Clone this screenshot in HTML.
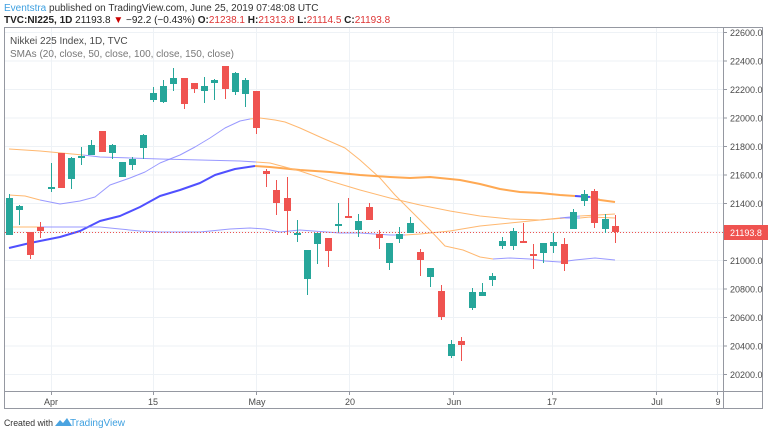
<!DOCTYPE html>
<html><head><meta charset="utf-8"><style>
body{margin:0;width:768px;height:434px;background:#fff;overflow:hidden;font-family:"Liberation Sans",sans-serif}
</style></head><body>
<svg width="768" height="434" xmlns="http://www.w3.org/2000/svg" font-family="Liberation Sans, sans-serif">
<rect width="768" height="434" fill="#fff"/>
<g stroke="#eef2f6" stroke-width="1">
<line x1="5" x2="723" y1="32.5" y2="32.5"/><line x1="5" x2="723" y1="61" y2="61"/><line x1="5" x2="723" y1="89.5" y2="89.5"/><line x1="5" x2="723" y1="118" y2="118"/><line x1="5" x2="723" y1="146.5" y2="146.5"/><line x1="5" x2="723" y1="175" y2="175"/><line x1="5" x2="723" y1="203.5" y2="203.5"/><line x1="5" x2="723" y1="232" y2="232"/><line x1="5" x2="723" y1="260.5" y2="260.5"/><line x1="5" x2="723" y1="289" y2="289"/><line x1="5" x2="723" y1="317.5" y2="317.5"/><line x1="5" x2="723" y1="346" y2="346"/><line x1="5" x2="723" y1="374.5" y2="374.5"/>
<line x1="51.5" x2="51.5" y1="28" y2="391"/><line x1="153.5" x2="153.5" y1="28" y2="391"/><line x1="256.5" x2="256.5" y1="28" y2="391"/><line x1="349.5" x2="349.5" y1="28" y2="391"/><line x1="453.5" x2="453.5" y1="28" y2="391"/><line x1="552.5" x2="552.5" y1="28" y2="391"/><line x1="656.5" x2="656.5" y1="28" y2="391"/><line x1="717.5" x2="717.5" y1="28" y2="391"/>
</g>
<g fill="none" stroke-linejoin="round">
<polyline stroke="#ffb870" stroke-width="1" points="9,195 25,196 40,200"/>
<polyline stroke="#8080ff" stroke-width="1" opacity="0.8" points="40,200 60,204 80,201 95,197 110,185 130,178 145,172 160,163 180,155 195,147 210,138 225,128 240,121 250,119"/>
<polyline stroke="#ffb870" stroke-width="1" points="250,119 260,118 275,120 285,122 300,128 320,137 345,148 360,160 380,178 395,195 410,210 420,220 430,230 445,246 463,250 480,257 493,259"/>
<polyline stroke="#8080ff" stroke-width="1" opacity="0.8" points="493,259 510,258 530,259 545,261 560,262 575,260 595,258 615,260"/>
<polyline stroke="#5050ff" stroke-width="2" points="9,248 30,243 60,237 80,231 100,221 120,216 140,207 160,196 180,190 200,183 215,175 235,169 255,166"/>
<polyline stroke="#ffa040" stroke-width="2" opacity="0.9" points="255,166 270,167 300,170 330,172 360,175 390,177 410,178 430,177 460,180 480,184 500,189 520,192 540,193 560,195 575,196"/>
<polyline stroke="#5050ff" stroke-width="2" points="575,196 590,197"/>
<polyline stroke="#ffa040" stroke-width="2" opacity="0.9" points="590,197 600,200 615,202"/>
<polyline stroke="#ffb870" stroke-width="1" points="9,149 40,151 83,155"/>
<polyline stroke="#8080ff" stroke-width="1" opacity="0.8" points="83,155 100,157 130,158 160,159 200,160 240,161 256,162"/>
<polyline stroke="#ffb870" stroke-width="1" points="256,162 270,163 300,171 330,181 360,190 390,198 420,205 450,211 480,216 510,219 540,220 565,218"/>
<polyline stroke="#8080ff" stroke-width="1" opacity="0.8" points="565,218 580,218"/>
<polyline stroke="#ffb870" stroke-width="1" points="580,218 590,217 615,218"/>
<polyline stroke="#ffb870" stroke-width="1" points="9,227 40,227"/>
<polyline stroke="#8080ff" stroke-width="1" opacity="0.8" points="40,227 100,227 120,229 140,231 160,232 200,232 230,229 250,228 265,229 280,232 300,230 340,233 360,233 390,235 405,235"/>
<polyline stroke="#ffb870" stroke-width="1" points="405,235 420,234 450,231 480,226 510,223 530,221 560,218"/>
<polyline stroke="#8080ff" stroke-width="1" opacity="0.8" points="560,218 580,216"/>
<polyline stroke="#ffb870" stroke-width="1" points="580,216 615,214"/>
</g>
<line x1="5" x2="723" y1="232.5" y2="232.5" stroke="#ef5350" stroke-width="1" stroke-dasharray="1,2"/>
<g id="c"></g>
<rect x="4.5" y="27.5" width="758" height="381" fill="none" stroke="#9598a1" stroke-width="1"/>
<line x1="723.5" x2="723.5" y1="28" y2="409" stroke="#9598a1"/>
<line x1="5" x2="763" y1="391.5" y2="391.5" stroke="#9598a1"/>
<g stroke="#9598a1"><line x1="723" x2="727" y1="32.5" y2="32.5"/><line x1="723" x2="727" y1="61" y2="61"/><line x1="723" x2="727" y1="89.5" y2="89.5"/><line x1="723" x2="727" y1="118" y2="118"/><line x1="723" x2="727" y1="146.5" y2="146.5"/><line x1="723" x2="727" y1="175" y2="175"/><line x1="723" x2="727" y1="203.5" y2="203.5"/><line x1="723" x2="727" y1="260.5" y2="260.5"/><line x1="723" x2="727" y1="289" y2="289"/><line x1="723" x2="727" y1="317.5" y2="317.5"/><line x1="723" x2="727" y1="346" y2="346"/><line x1="723" x2="727" y1="374.5" y2="374.5"/>
<line x1="51.5" x2="51.5" y1="391" y2="395"/><line x1="153.5" x2="153.5" y1="391" y2="395"/><line x1="256.5" x2="256.5" y1="391" y2="395"/><line x1="349.5" x2="349.5" y1="391" y2="395"/><line x1="453.5" x2="453.5" y1="391" y2="395"/><line x1="552.5" x2="552.5" y1="391" y2="395"/><line x1="656.5" x2="656.5" y1="391" y2="395"/><line x1="717.5" x2="717.5" y1="391" y2="395"/></g>
<g font-size="9" fill="#4a4a4a">
<text x="730" y="36">22600.0</text><text x="730" y="64.5">22400.0</text><text x="730" y="93">22200.0</text><text x="730" y="121.5">22000.0</text><text x="730" y="150">21800.0</text><text x="730" y="178.5">21600.0</text><text x="730" y="207">21400.0</text><text x="730" y="264">21000.0</text><text x="730" y="292.5">20800.0</text><text x="730" y="321">20600.0</text><text x="730" y="349.5">20400.0</text><text x="730" y="378">20200.0</text>
</g>
<rect x="724" y="225" width="44" height="15" fill="#ef5350"/>
<text x="730" y="236" font-size="9" fill="#fff">21193.8</text>
<g font-size="9" fill="#4a4a4a" text-anchor="middle">
<text x="51" y="405">Apr</text><text x="153" y="405">15</text><text x="257" y="405">May</text><text x="350" y="405">20</text><text x="454" y="405">Jun</text><text x="552" y="405">17</text><text x="657" y="405">Jul</text><text x="718" y="405">9</text>
</g>
<text x="4" y="11" font-size="10" fill="#333"><tspan fill="#3ea0e0">Eventstra</tspan> published on TradingView.com, June 25, 2019 07:48:08 UTC</text>
<text x="4" y="23" font-size="10" fill="#222" font-weight="bold">TVC:NI225, 1D<tspan font-weight="normal"> 21193.8 </tspan><tspan fill="#c00" font-weight="normal">▼</tspan><tspan font-weight="normal"> −92.2 (−0.43%) </tspan>O:<tspan fill="#d33" font-weight="normal">21238.1</tspan> H:<tspan fill="#d33" font-weight="normal">21313.8</tspan> L:<tspan fill="#d33" font-weight="normal">21114.5</tspan> C:<tspan fill="#d33" font-weight="normal">21193.8</tspan></text>
<text x="10" y="44" font-size="10" fill="#4a4a4a">Nikkei 225 Index, 1D, TVC</text>
<text x="10" y="57" font-size="10" fill="#777">SMAs (20, close, 50, close, 100, close, 150, close)</text>
<text x="4" y="426" font-size="9.5" fill="#333" textLength="49" lengthAdjust="spacingAndGlyphs">Created with</text>
<path d="M55,426 l5,-6 l3,3 l4,-5 l5,8 z" fill="#4aa3e0"/>
<text x="70" y="426" font-size="10" fill="#3ea0e0">TradingView</text>
</svg>
<script>
var d=[[9,1,198,235,194,235],[19,1,206,210,205,225],[30,0,232,255,232,259],[40,0,227,231,222,238],[51,1,187,189,163,192],[61,0,153,188,153,188],[71,1,158,179,157,189],[81,1,156,157,147,165],[91,1,145,155,140,155],[102,0,131,152,131,152],[112,1,145,153,144,159],[122,1,162,177,162,177],[132,1,159,165,157,170],[143,1,135,148,134,159],[153,1,93,100,87,102],[163,1,86,102,80,103],[173,1,78,84,68,91],[184,0,78,104,78,109],[194,0,83,89,83,93],[204,1,86,91,77,103],[214,1,80,83,79,100],[225,0,66,89,66,99],[235,1,73,92,72,95],[245,1,80,94,78,107],[256,0,91,128,91,134],[266,0,171,174,169,187],[276,0,190,203,180,215],[287,0,198,211,177,235],[297,1,233,235,220,242],[307,1,250,279,250,295],[317,1,233,244,233,264],[328,0,238,251,238,267],[338,1,224,226,203,232],[348,0,216,218,198,218],[358,1,221,230,214,237],[369,0,207,220,203,220],[379,0,234,238,230,249],[389,1,243,263,243,270],[399,1,234,239,227,243],[410,1,223,233,217,233],[420,0,252,260,249,276],[430,1,268,277,268,287],[441,0,291,317,285,320],[451,1,344,356,340,358],[461,0,341,345,337,361],[472,1,292,308,288,310],[482,1,292,296,283,296],[492,1,276,280,273,286],[502,1,241,246,237,249],[513,1,231,246,228,250],[523,0,241,242,223,243],[533,0,254,256,244,269],[543,1,243,253,243,263],[553,1,242,246,233,253],[564,0,244,264,238,271],[573,1,212,229,209,229],[584,1,194,201,190,206],[594,0,191,223,189,228],[605,1,219,229,214,233],[615,0,226,232,215,243]];
var g=document.getElementById('c'),s='';
d.forEach(function(c){var col=c[1]?'#26a69a':'#ef5350';var h=Math.max(c[3]-c[2],2);
s+='<line x1="'+(c[0]+.5)+'" x2="'+(c[0]+.5)+'" y1="'+c[4]+'" y2="'+c[5]+'" stroke="'+col+'" stroke-width="1"/>';
s+='<rect x="'+(c[0]-3)+'" y="'+c[2]+'" width="7" height="'+h+'" fill="'+col+'"/>';});
g.innerHTML=s;
</script>
</body></html>
